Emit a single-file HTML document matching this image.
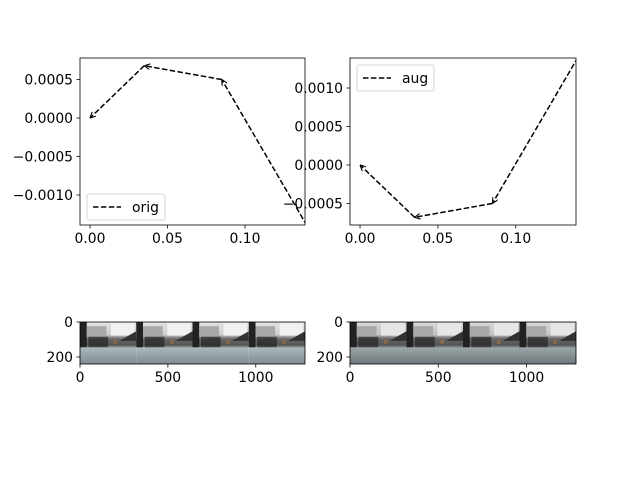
<!DOCTYPE html>
<html><head><meta charset="utf-8"><style>
html,body{margin:0;padding:0;background:#fff;}
svg{display:block;font-family:"DejaVu Sans","Liberation Sans",sans-serif;font-size:13.9px;}
</style></head><body>
<svg id="fig" width="640" height="480" viewBox="0 0 640 480">
<defs>
<linearGradient id="tileA" x1="0" y1="0" x2="0" y2="1">
<stop offset="0" stop-color="#e2e2e2"/><stop offset="0.3" stop-color="#cfcfcf"/>
<stop offset="0.4" stop-color="#6a6a6a"/><stop offset="0.55" stop-color="#555"/>
<stop offset="0.62" stop-color="#a9b7ba"/><stop offset="1" stop-color="#7f8c90"/>
</linearGradient>
<linearGradient id="tileB" x1="0" y1="0" x2="0" y2="1">
<stop offset="0" stop-color="#d8d8d8"/><stop offset="0.3" stop-color="#c4c4c4"/>
<stop offset="0.4" stop-color="#666"/><stop offset="0.55" stop-color="#555"/>
<stop offset="0.62" stop-color="#9aa5a8"/><stop offset="1" stop-color="#6e787b"/>
</linearGradient>
<marker id="ah" viewBox="0 0 10 10" refX="10" refY="5" markerWidth="6" markerHeight="6" orient="auto" markerUnits="userSpaceOnUse">
<path d="M0,0 L10,5 L0,10" fill="none" stroke="#000" stroke-width="1.8"/>
</marker>
</defs>
</svg>
<script>
// Data
const xsOrig = [0, 0.035, 0.085, 0.14];
const ysOrig = [0, 0.00068, 0.0005, -0.0014];
const xsAug = [0, 0.035, 0.085, 0.14];
const ysAug = [0, -0.00068, -0.0005, 0.0014];
const xTicks = [0, 0.05, 0.10];
const xTickLabels = ["0.00", "0.05", "0.10"];
const yTicksOrig = [0.0005, 0, -0.0005, -0.001];
const yTickLabelsOrig = ["0.0005", "0.0000", "\u22120.0005", "\u22120.0010"];
const yTicksAug = [0.001, 0.0005, 0, -0.0005];
const yTickLabelsAug = ["0.0010", "0.0005", "0.0000", "\u22120.0005"];
const imgXTicks = [0, 500, 1000];
const imgYTicks = [0, 200];
const tilesCount = 4;

const NS = "http://www.w3.org/2000/svg";
const svg = document.getElementById("fig");
function mk(tag, attrs, parent) {
  const e = document.createElementNS(NS, tag);
  for (const k in attrs) e.setAttribute(k, attrs[k]);
  (parent || svg).appendChild(e);
  return e;
}

function linePanel(name, L, T, W, H, xmin, xmax, ymin, ymax, xs, ys, yT, yTL, legendText, legendPos, legW) {
  const g = mk("g", {});
  
  
  const sx = v => L + (v - xmin) / (xmax - xmin) * W;
  const sy = v => T + (ymax - v) / (ymax - ymin) * H;
  const clipId = name + "-clip";
  const cp = mk("clipPath", {id: clipId}, g);
  mk("rect", {x: L, y: T, width: W, height: H}, cp);
  const lg = mk("g", {"clip-path": "url(#" + clipId + ")"}, g);
  
  
  for (let i = xs.length - 1; i > 0; i--) {
    const seg = mk("line", {x1: sx(xs[i]), y1: sy(ys[i]), x2: sx(xs[i-1]), y2: sy(ys[i-1]),
      stroke: "#000", "stroke-width": 1.5, "stroke-dasharray": "5.5,2.4", "marker-end": "url(#ah)"}, lg);
    
    
  }
  const fr = mk("rect", {x: L, y: T, width: W, height: H, fill: "none", stroke: "#000", "stroke-width": 0.8}, g);
  
  
  xTicks.forEach((t, i) => {
    const x = sx(t);
    mk("line", {x1: x, y1: T + H, x2: x, y2: T + H + 3.5, stroke: "#000", "stroke-width": 0.8}, g);
    const tx = mk("text", {x: x, y: T + H + 18, "text-anchor": "middle"}, g);
    tx.textContent = xTickLabels[i];
    
    
  });
  yT.forEach((t, i) => {
    const y = sy(t);
    mk("line", {x1: L, y1: y, x2: L - 3.5, y2: y, stroke: "#000", "stroke-width": 0.8}, g);
    const tx = mk("text", {x: L - 7, y: y + 5, "text-anchor": "end"}, g);
    tx.textContent = yTL[i];
    
    
  });
  const lx = legendPos[0], ly = legendPos[1];
  const leg = mk("g", {}, g);
  
  
  mk("rect", {x: lx, y: ly, width: legW, height: 26, rx: 2, fill: "#fff", "fill-opacity": 0.8, stroke: "#ccc", "stroke-width": 0.8}, leg);
  mk("line", {x1: lx + 6, y1: ly + 13, x2: lx + 34, y2: ly + 13, stroke: "#000", "stroke-width": 1.5, "stroke-dasharray": "5.5,2.4"}, leg);
  const lt = mk("text", {x: lx + 45, y: ly + 18}, leg);
  lt.textContent = legendText;
  
  
}

linePanel("orig-chart", 80, 58, 225, 167, -0.00645, 0.1387, -0.00139, 0.00078,
  xsOrig, ysOrig, yTicksOrig, yTickLabelsOrig, "orig", [87, 194], 78);
linePanel("aug-chart", 350, 58, 226, 167, -0.00645, 0.1387, -0.00078, 0.00139,
  xsAug, ysAug, yTicksAug, yTickLabelsAug, "aug", [357, 65], 77);

function imgPanel(name, L, T, W, H, grad, noisy) {
  const g = mk("g", {});
  
  
  const sx = v => L + v / 1280 * W;
  const sy = v => T + v / 240 * H;
  const tw = W / tilesCount;
  for (let i = 0; i < tilesCount; i++) {
    const x0 = L + i * tw;
    const tile = mk("g", {}, g);
    
    
    mk("rect", {x: x0, y: T, width: tw, height: H, fill: "url(#" + grad + ")"}, tile);
    mk("rect", {x: x0, y: T, width: tw * 0.12, height: H * 0.6, fill: "#222"}, tile);
    mk("rect", {x: x0 + tw * 0.12, y: T + H * 0.1, width: tw * 0.35, height: H * 0.25, fill: "#a8a8a8"}, tile);
    mk("rect", {x: x0 + tw * 0.55, y: T + 1, width: tw * 0.42, height: H * 0.3, fill: noisy ? "#e6e6e6" : "#f0f0f0"}, tile);
    mk("polygon", {points: [x0 + tw * 0.7, T + H * 0.45, x0 + tw, T + H * 0.22, x0 + tw, T + H * 0.45].join(","), fill: "#333"}, tile);
    mk("rect", {x: x0 + tw * 0.15, y: T + H * 0.35, width: tw * 0.35, height: H * 0.25, fill: "#1a1a1a", "fill-opacity": 0.6}, tile);
    mk("rect", {x: x0 + tw * 0.6, y: T + H * 0.42, width: tw * 0.06, height: H * 0.1, fill: "#8a6a48"}, tile);
  }
  mk("rect", {x: L, y: T, width: W, height: H, fill: "none", stroke: "#000", "stroke-width": 0.8}, g);
  imgXTicks.forEach(t => {
    const x = sx(t);
    mk("line", {x1: x, y1: T + H, x2: x, y2: T + H + 3.5, stroke: "#000", "stroke-width": 0.8}, g);
    const tx = mk("text", {x: x, y: T + H + 18, "text-anchor": "middle"}, g);
    tx.textContent = String(t);
    
    
  });
  imgYTicks.forEach(t => {
    const y = sy(t);
    mk("line", {x1: L, y1: y, x2: L - 3.5, y2: y, stroke: "#000", "stroke-width": 0.8}, g);
    const tx = mk("text", {x: L - 7, y: y + 5, "text-anchor": "end"}, g);
    tx.textContent = String(t);
    
    
  });
}
imgPanel("orig-image", 80, 322, 225, 42, "tileA", false);
imgPanel("aug-image", 350, 322, 226, 42, "tileB", true);
</script>
</body></html>
